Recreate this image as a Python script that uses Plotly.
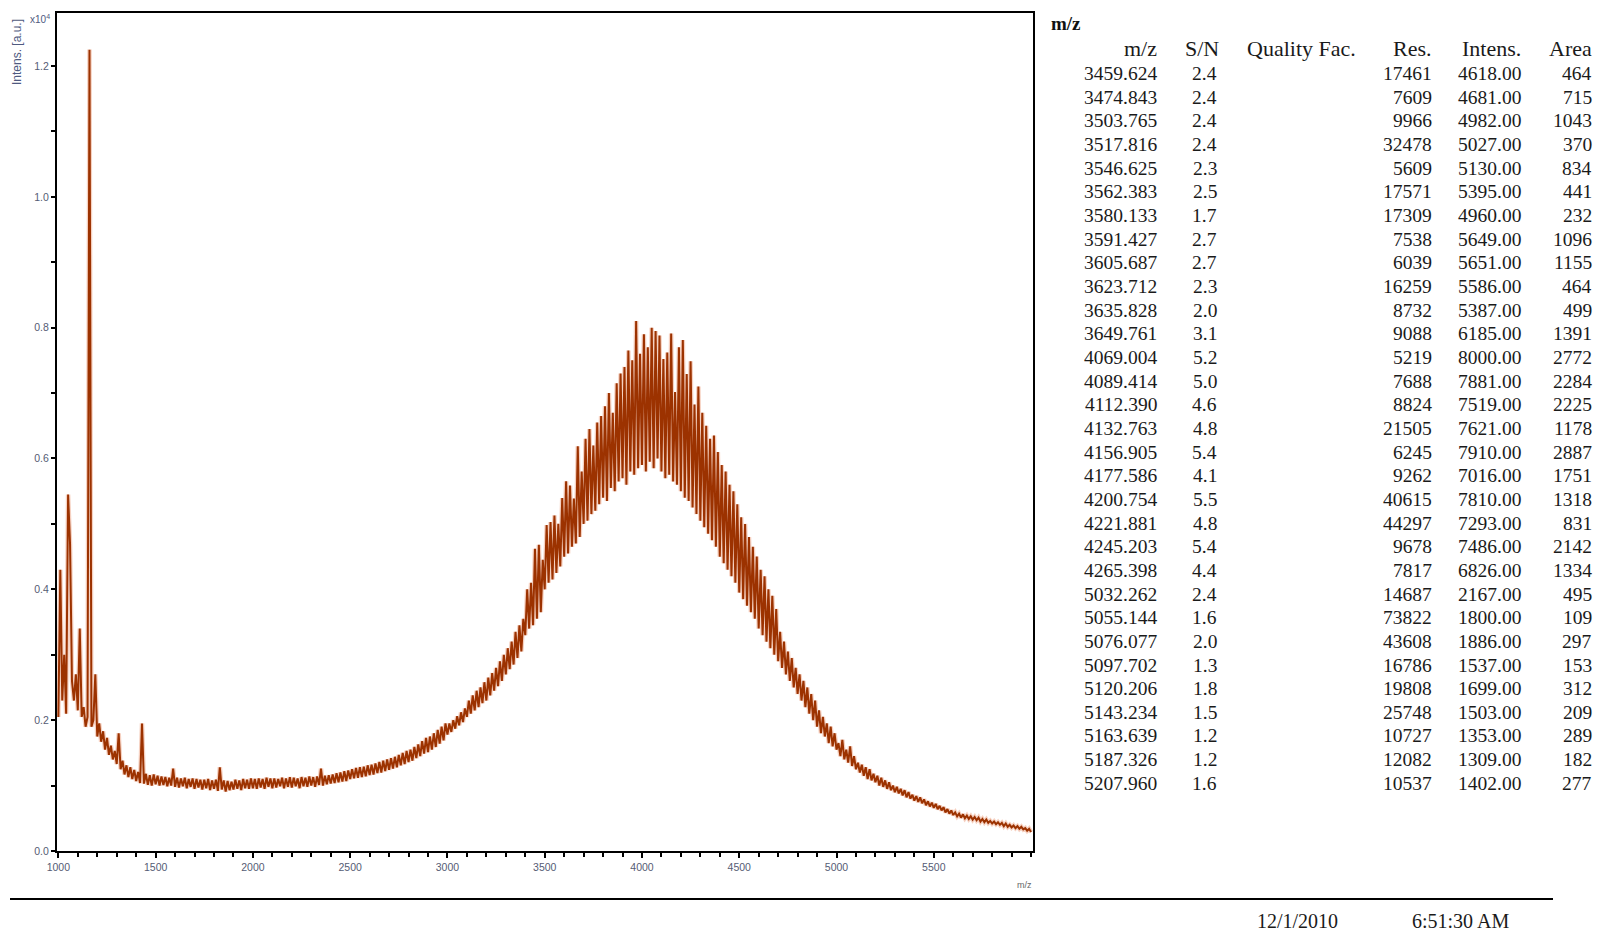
import plotly.graph_objects as go

# ---------------- spectrum (intensity in a.u., sampled every 10 m/z from 1000) ----------------
MZ_START = 1000
MZ_STEP = 10

spec_1000 = [2050, 4300, 2300, 3000, 2100, 5450, 4700, 2600, 2300, 2700,
             2150, 3400, 2050, 2200, 1900, 2050, 12250, 1900, 2000, 2700,
             1750, 1950, 1670, 1830, 1550, 1730, 1470, 1610, 1400, 1530,
             1330, 1800, 1250, 1380, 1170, 1310, 1130, 1280, 1100, 1240,
             1070, 1210, 1040, 1950, 1030, 1180, 1010, 1160, 1000, 1170]
spec_1500 = [1020, 1150, 1000, 1140, 1010, 1130, 990, 1120, 1000, 1260,
             980, 1120, 970, 1110, 990, 1120, 960, 1100, 980, 1110,
             950, 1100, 970, 1090, 940, 1090, 960, 1100, 930, 1080,
             950, 1090, 920, 1280, 940, 1080, 910, 1070, 930, 1060,
             940, 1090, 950, 1080, 930, 1100, 960, 1090, 950, 1110]
spec_2000 = [960, 1100, 950, 1110, 970, 1100, 950, 1120, 980, 1110,
             960, 1110, 970, 1100, 990, 1120, 960, 1110, 980, 1130,
             970, 1120, 990, 1110, 960, 1130, 990, 1120, 980, 1140,
             1000, 1130, 980, 1140, 1010, 1260, 1000, 1150, 1020, 1160,
             1030, 1170, 1040, 1190, 1050, 1200, 1060, 1220, 1070, 1230]
spec_2500 = [1100, 1250, 1110, 1270, 1120, 1280, 1130, 1290, 1140, 1310,
             1160, 1320, 1170, 1340, 1190, 1360, 1200, 1380, 1220, 1400,
             1240, 1420, 1260, 1440, 1280, 1470, 1310, 1500, 1330, 1530,
             1360, 1550, 1380, 1590, 1420, 1630, 1450, 1680, 1490, 1730,
             1510, 1750, 1550, 1800, 1590, 1850, 1640, 1900, 1690, 1950]
spec_3000 = [1780, 1950, 1820, 2000, 1870, 2060, 1920, 2120, 1970, 2180,
             2050, 2300, 2100, 2380, 2150, 2450, 2200, 2500, 2260, 2580,
             2300, 2650, 2380, 2720, 2450, 2800, 2520, 2900, 2600, 3000,
             2700, 3100, 2780, 3200, 2850, 3350, 2950, 3450, 3050, 3550,
             3300, 4000, 3400, 4100, 3450, 4618, 3550, 4681, 3650, 4450]
spec_3500 = [4000, 4982, 4100, 5027, 4150, 5130, 4250, 5000, 4350, 5395,
             4500, 5651, 4550, 5586, 4650, 5387, 4700, 6185, 4800, 5800,
             5000, 6300, 5050, 6450, 5150, 6200, 5200, 6550, 5300, 6650,
             5400, 6800, 5350, 7000, 5550, 6700, 5500, 7150, 5650, 7300,
             5700, 7400, 5600, 7650, 5800, 7500, 5750, 8100, 5850, 7600]
spec_4000 = [5900, 7900, 5800, 7700, 5950, 8000, 5850, 7950, 6000, 7881,
             5800, 7519, 5700, 7621, 5750, 7910, 5650, 7016, 5600, 7700,
             5500, 7810, 5400, 7293, 5350, 7486, 5250, 6826, 5150, 7100,
             5050, 6700, 4950, 6500, 4850, 6300, 4750, 6350, 4650, 6100,
             4500, 5900, 4400, 5800, 4300, 5600, 4200, 5500, 4100, 5300]
spec_4500 = [3950, 5100, 3850, 5000, 3750, 4800, 3650, 4650, 3550, 4500,
             3400, 4300, 3300, 4200, 3200, 4000, 3100, 3900, 3000, 3700,
             2900, 3350, 2800, 3200, 2700, 3050, 2600, 2950, 2500, 2800,
             2400, 2700, 2300, 2600, 2200, 2500, 2100, 2400, 2000, 2300,
             1900, 2150, 1800, 2050, 1750, 1950, 1650, 1900, 1600, 1800]
spec_5000 = [1550, 1650, 1450, 1700, 1400, 1550, 1350, 1600, 1300, 1450,
             1250, 1350, 1200, 1320, 1150, 1280, 1100, 1250, 1080, 1180,
             1050, 1150, 1000, 1120, 980, 1080, 950, 1050, 930, 1000,
             900, 980, 880, 950, 850, 930, 820, 900, 800, 860,
             770, 840, 750, 820, 730, 790, 700, 760, 680, 740]
spec_5500 = [660, 720, 640, 690, 620, 670, 590, 640, 570, 620,
             550, 590, 530, 570, 510, 560, 500, 540, 490, 530,
             480, 520, 470, 510, 450, 490, 440, 480, 430, 460,
             420, 450, 410, 440, 400, 430, 380, 420, 370, 400,
             360, 390, 350, 380, 340, 370, 330, 350, 310, 340,
             290]

intensity = (spec_1000 + spec_1500 + spec_2000 + spec_2500 + spec_3000 +
             spec_3500 + spec_4000 + spec_4500 + spec_5000 + spec_5500)
mz = [MZ_START + i * MZ_STEP for i in range(len(intensity))]
y_scaled = [v / 1e4 for v in intensity]  # axis shows x10^4

# ---------------- peak table ----------------
tbl_mz = ["3459.624", "3474.843", "3503.765", "3517.816", "3546.625", "3562.383",
          "3580.133", "3591.427", "3605.687", "3623.712", "3635.828", "3649.761",
          "4069.004", "4089.414", "4112.390", "4132.763", "4156.905", "4177.586",
          "4200.754", "4221.881", "4245.203", "4265.398", "5032.262", "5055.144",
          "5076.077", "5097.702", "5120.206", "5143.234", "5163.639", "5187.326",
          "5207.960"]
tbl_sn = ["2.4", "2.4", "2.4", "2.4", "2.3", "2.5", "1.7", "2.7", "2.7", "2.3", "2.0",
          "3.1", "5.2", "5.0", "4.6", "4.8", "5.4", "4.1", "5.5", "4.8", "5.4", "4.4",
          "2.4", "1.6", "2.0", "1.3", "1.8", "1.5", "1.2", "1.2", "1.6"]
tbl_res = ["17461", "7609", "9966", "32478", "5609", "17571", "17309", "7538", "6039",
           "16259", "8732", "9088", "5219", "7688", "8824", "21505", "6245", "9262",
           "40615", "44297", "9678", "7817", "14687", "73822", "43608", "16786",
           "19808", "25748", "10727", "12082", "10537"]
tbl_intens = ["4618.00", "4681.00", "4982.00", "5027.00", "5130.00", "5395.00",
              "4960.00", "5649.00", "5651.00", "5586.00", "5387.00", "6185.00",
              "8000.00", "7881.00", "7519.00", "7621.00", "7910.00", "7016.00",
              "7810.00", "7293.00", "7486.00", "6826.00", "2167.00", "1800.00",
              "1886.00", "1537.00", "1699.00", "1503.00", "1353.00", "1309.00",
              "1402.00"]
tbl_area = ["464", "715", "1043", "370", "834", "441", "232", "1096", "1155", "464",
            "499", "1391", "2772", "2284", "2225", "1178", "2887", "1751", "1318",
            "831", "2142", "1334", "495", "109", "297", "153", "312", "209", "289",
            "182", "277"]
tbl_headers = ["m/z", "S/N", "Quality Fac.", "Res.", "Intens.", "Area"]

# ---------------- layout geometry (pixels) ----------------
W, H = 1597, 933
PL, PR, PT, PB = 57, 1033, 13, 851


def px_x(px):
    return (px - PL) / (PR - PL)


def px_y(py):
    return (PB - py) / (PB - PT)


fig = go.Figure()
fig.add_trace(go.Scatter(x=mz, y=y_scaled, mode="lines",
                         line=dict(color="rgba(232,140,100,0.40)", width=4.5),
                         hoverinfo="skip", showlegend=False))
fig.add_trace(go.Scatter(x=mz, y=y_scaled, mode="lines",
                         line=dict(color="#9c3200", width=2),
                         showlegend=False))

axis_font = dict(family="Liberation Sans, Arial", size=10.5, color="#555c74")

fig.update_xaxes(range=[993, 6010], tickmode="array",
                 tickvals=[1000, 1500, 2000, 2500, 3000, 3500, 4000, 4500, 5000, 5500],
                 ticks="outside", ticklen=5, tickwidth=1.5, tickcolor="black",
                 minor=dict(tickmode="linear", tick0=1000, dtick=100, ticks="outside",
                            ticklen=4, tickwidth=1.5, tickcolor="black"),
                 showline=True, linecolor="black", linewidth=2, mirror=True,
                 showgrid=False, zeroline=False, tickfont=axis_font)
fig.update_yaxes(range=[0, 1.281], tickmode="linear", tick0=0, dtick=0.2,
                 tickformat=".1f",
                 ticks="outside", ticklen=4, tickwidth=1.5, tickcolor="black",
                 minor=dict(tickmode="linear", tick0=0, dtick=0.1, ticks="outside",
                            ticklen=4, tickwidth=1.5, tickcolor="black"),
                 showline=True, linecolor="black", linewidth=2, mirror=True,
                 showgrid=False, zeroline=False, tickfont=axis_font)

ann = []
# axis labels
ann.append(dict(x=px_x(17), y=px_y(52), text="Intens. [a.u.]", textangle=-90,
                font=dict(family="Liberation Sans, Arial", size=12, color="#4f5a80")))
ann.append(dict(x=px_x(40), y=px_y(19), text="x10<sup>4</sup>",
                font=dict(family="Liberation Sans, Arial", size=10, color="#4f5a80")))
ann.append(dict(x=px_x(1024), y=px_y(885), text="m/z",
                font=dict(family="Liberation Sans, Arial", size=9, color="#666")))

serif = "Liberation Serif, Times New Roman, serif"
ann.append(dict(x=px_x(1049), y=px_y(23), text="<b>m/z</b>", xanchor="left",
                font=dict(family=serif, size=19, color="#111")))

hdr_font = dict(family=serif, size=22, color="#1a1a1a")
col_right = [1159, 1221, None, 1434, 1523, 1594]
hdr_y = 48
for h, cx in zip(tbl_headers, col_right):
    if cx is None:
        ann.append(dict(x=px_x(1245), y=px_y(hdr_y), text=h, xanchor="left",
                        font=hdr_font))
    else:
        ann.append(dict(x=px_x(cx), y=px_y(hdr_y), text=h, xanchor="right",
                        font=hdr_font))

row_font = dict(family=serif, size=19.5, color="#1a1a1a")
row0, row_step = 73.5, 23.66
cols = [tbl_mz, tbl_sn, tbl_res, tbl_intens, tbl_area]
cols_x = [1159, 1219, 1434, 1523, 1594]
for i in range(len(tbl_mz)):
    yy = px_y(row0 + i * row_step)
    for col, cx in zip(cols, cols_x):
        ann.append(dict(x=px_x(cx), y=yy, text=col[i], xanchor="right",
                        font=row_font))

# footer
ann.append(dict(x=px_x(1297), y=px_y(921), text="12/1/2010",
                font=dict(family=serif, size=20, color="#1a1a1a")))
ann.append(dict(x=px_x(1460), y=px_y(921), text="6:51:30 AM",
                font=dict(family=serif, size=20, color="#1a1a1a")))

for a in ann:
    a.setdefault("xref", "paper")
    a.setdefault("yref", "paper")
    a.setdefault("showarrow", False)
    a.setdefault("yanchor", "middle")
    a.setdefault("xanchor", "center")

fig.update_layout(
    width=W, height=H,
    margin=dict(l=PL, r=W - PR, t=PT, b=H - PB),
    paper_bgcolor="white", plot_bgcolor="white",
    annotations=ann,
    shapes=[dict(type="line", xref="paper", yref="paper",
                 x0=px_x(10), x1=px_x(1553), y0=px_y(899), y1=px_y(899),
                 line=dict(color="black", width=2))],
)

fig.write_html("out.html",
               config={"displayModeBar": False},
               post_script="document.body.style.margin='0px';"
                           "document.body.style.overflow='hidden';")
